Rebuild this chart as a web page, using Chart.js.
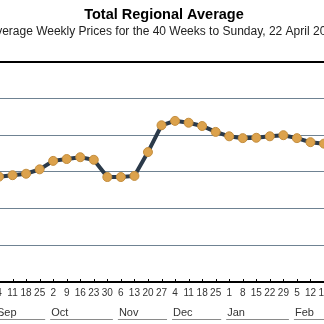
<!DOCTYPE html>
<html>
<head>
<meta charset="utf-8">
<script src="https://cdn.jsdelivr.net/npm/chart.js@4"></script>
<style>
  html, body { margin: 0; padding: 0; background: #fff; overflow: hidden; width: 324px; height: 324px; }
  #wrap { position: absolute; left: -20px; top: 0; width: 368px; height: 324px; }
</style>
</head>
<body>
<div id="wrap"><canvas id="c" width="368" height="324"></canvas></div>
<script>
// ---- data ----
const titleText = 'Total Regional Average';
const subtitleText = 'Average Weekly Prices for the 40 Weeks to Sunday, 22 April 2012';
const dayLabels = ['4','11','18','25','2','9','16','23','30','6','13','20','27','4','11','18','25','1','8','15','22','29','5','12','19'];
const prices = [28.7, 29.1, 29.5, 30.7, 33.0, 33.5, 34.0, 33.3, 28.6, 28.6, 28.9, 35.4, 42.7, 43.9, 43.4, 42.5, 40.9, 39.7, 39.2, 39.3, 39.7, 40.0, 39.2, 38.1, 37.7];
const monthNames = ['Sep','Oct','Nov','Dec','Jan','Feb'];
const monthStartIndex = [0, 4, 9, 13, 17, 22];
const yMin = 0, yMax = 60, yStep = 10;

const monthPlugin = {
  id: 'monthPlugin',
  afterDraw(chart) {
    const ctx = chart.ctx;
    const xs = chart.scales.x;
    const area = chart.chartArea;
    ctx.save();
    // small tick marks above the axis line
    ctx.strokeStyle = '#000';
    ctx.lineWidth = 1;
    for (let i = 0; i < dayLabels.length; i++) {
      const px = Math.round(xs.getPixelForValue(i)) + 0.5;
      ctx.beginPath();
      ctx.moveTo(px, area.bottom - 3);
      ctx.lineTo(px, area.bottom);
      ctx.stroke();
    }
    // month labels with underline
    ctx.font = '11px "Liberation Sans", Arial, sans-serif';
    ctx.fillStyle = '#333';
    ctx.textAlign = 'left';
    ctx.textBaseline = 'alphabetic';
    for (let m = 0; m < monthNames.length; m++) {
      const start = xs.getPixelForValue(monthStartIndex[m]) - 3;
      const end = m + 1 < monthNames.length ? xs.getPixelForValue(monthStartIndex[m + 1]) - 8 : chart.width;
      ctx.fillText(monthNames[m], start + 1, area.bottom + 34);
      ctx.strokeStyle = '#8a8a8a';
      ctx.beginPath();
      ctx.moveTo(start, area.bottom + 37.5);
      ctx.lineTo(end, area.bottom + 37.5);
      ctx.stroke();
    }
    ctx.restore();
  }
};

new Chart(document.getElementById('c'), {
  type: 'line',
  data: {
    labels: dayLabels,
    datasets: [{
      data: prices,
      borderColor: '#2b3a4a',
      borderWidth: 4,
      tension: 0,
      pointRadius: 4.5,
      pointBackgroundColor: '#dca24c',
      pointBorderColor: '#c38d3e',
      pointBorderWidth: 1
    }]
  },
  options: {
    responsive: false,
    devicePixelRatio: 1,
    animation: false,
    events: [],
    layout: { padding: 0 },
    plugins: {
      legend: { display: false },
      tooltip: { enabled: false },
      title: {
        display: true,
        text: titleText,
        color: '#000',
        font: { family: '"Liberation Sans", Arial, sans-serif', size: 14.5, weight: 'bold', lineHeight: 1.2 },
        padding: { top: 6, bottom: 0 }
      },
      subtitle: {
        display: true,
        text: subtitleText,
        color: '#222',
        font: { family: '"Liberation Sans", Arial, sans-serif', size: 12, lineHeight: 1.2 },
        padding: { top: 1, bottom: 23 }
      }
    },
    scales: {
      x: {
        type: 'category',
        offset: false,
        grid: { display: false, drawTicks: false },
        border: { display: true, color: '#000', width: 2 },
        ticks: {
          autoSkip: false,
          maxRotation: 0,
          padding: 5,
          color: '#333',
          font: { family: '"Liberation Sans", Arial, sans-serif', size: 10 }
        },
        afterFit(s) { s.height = 42; }
      },
      y: {
        min: yMin, max: yMax,
        ticks: { stepSize: yStep, display: false },
        grid: {
          drawTicks: false,
          color: (c) => (c.tick && (c.tick.value === yMax || c.tick.value === yMin)) ? '#000' : '#6f8292',
          lineWidth: (c) => (c.tick && (c.tick.value === yMax || c.tick.value === yMin)) ? 2 : 1
        },
        border: { display: false },
        afterFit(s) { s.width = 19; }
      },
      yR: {
        type: 'linear',
        position: 'right',
        display: true,
        grid: { display: false, drawTicks: false },
        ticks: { display: false },
        border: { display: false },
        afterFit(s) { s.width = 24; }
      }
    }
  },
  plugins: [monthPlugin]
});
</script>
</body>
</html>
